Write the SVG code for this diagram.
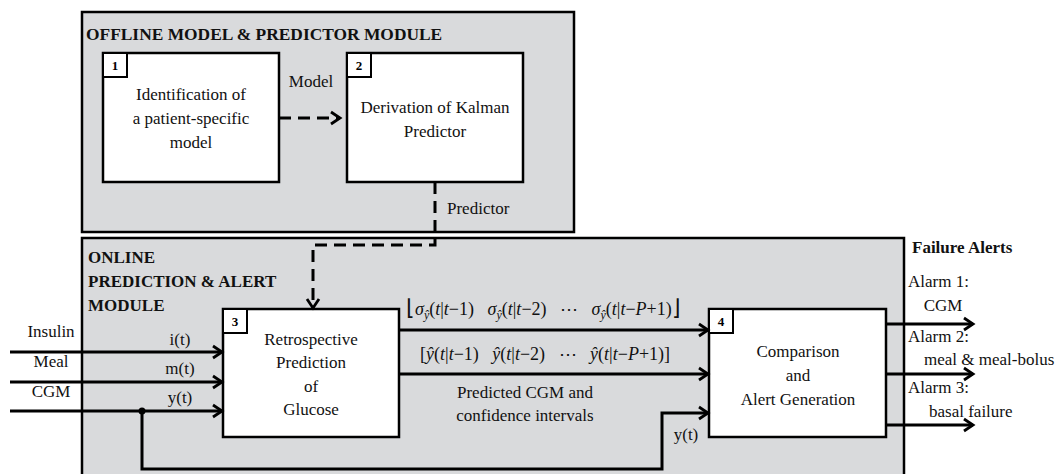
<svg xmlns="http://www.w3.org/2000/svg" width="1061" height="474" viewBox="0 0 1061 474">
<defs>
<style>
.mod{fill:#d9dadc;stroke:#000;stroke-width:2.5}
.box{fill:#fff;stroke:#000;stroke-width:2.5}
.num{fill:#fff;stroke:#000;stroke-width:2}
.t{font-family:"Liberation Serif","Times New Roman",serif;font-size:17px;fill:#111}
.c{text-anchor:middle}
.b{font-weight:bold}
.n{font-family:"Liberation Serif","Times New Roman",serif;font-size:13px;font-weight:bold;text-anchor:middle}
.ln{fill:none;stroke:#000;stroke-width:3}
.dash{stroke-dasharray:12 7}
.i{font-style:italic}
</style>
<marker id="ah" markerUnits="userSpaceOnUse" markerWidth="16" markerHeight="16" viewBox="0 0 16 16" refX="13" refY="8" orient="auto">
<path d="M4,2 L13,8 L4,14" fill="none" stroke="#000" stroke-width="2.8"/>
</marker>
</defs>

<g id="offline-module">
<rect class="mod" x="82" y="12" width="492" height="220"/>
<text class="t b" x="86" y="40" style="font-size:17.4px">OFFLINE MODEL &amp; PREDICTOR MODULE</text>
</g>

<g id="online-module">
<rect class="mod" x="82" y="238" width="822" height="260"/>
<text class="t b" x="88" y="263">ONLINE</text>
<text class="t b" x="88" y="287">PREDICTION &amp; ALERT</text>
<text class="t b" x="88" y="311">MODULE</text>
</g>

<g id="node1">
<rect class="box" x="103" y="53" width="176" height="129"/>
<rect class="num" x="103" y="53" width="24" height="24"/>
<text class="n" x="115" y="70">1</text>
<text class="t c" x="191" y="100">Identification of</text>
<text class="t c" x="191" y="124">a patient-specific</text>
<text class="t c" x="191" y="148">model</text>
</g>

<g id="node2">
<rect class="box" x="347" y="53" width="176" height="129"/>
<rect class="num" x="347" y="53" width="24" height="24"/>
<text class="n" x="359" y="70">2</text>
<text class="t c" x="435" y="113">Derivation of Kalman</text>
<text class="t c" x="435" y="137">Predictor</text>
</g>

<g id="node3">
<rect class="box" x="223" y="309" width="176" height="128"/>
<rect class="num" x="223" y="309" width="24" height="24"/>
<text class="n" x="235" y="326">3</text>
<text class="t c" x="311" y="345">Retrospective</text>
<text class="t c" x="311" y="368">Prediction</text>
<text class="t c" x="311" y="392">of</text>
<text class="t c" x="311" y="415">Glucose</text>
</g>

<g id="node4">
<rect class="box" x="709" y="309" width="177" height="128"/>
<rect class="num" x="709" y="309" width="24" height="24"/>
<text class="n" x="721" y="326">4</text>
<text class="t c" x="798" y="357">Comparison</text>
<text class="t c" x="798" y="381">and</text>
<text class="t c" x="798" y="405">Alert Generation</text>
</g>

<g id="connectors">
<path class="ln dash" d="M279,118 H340" marker-end="url(#ah)"/>
<path class="ln dash" d="M435,182 V245 H313 V308" marker-end="url(#ah)"/>
<path class="ln" d="M10,352 H222" marker-end="url(#ah)"/>
<path class="ln" d="M10,382 H222" marker-end="url(#ah)"/>
<path class="ln" d="M10,411 H222" marker-end="url(#ah)"/>
<path class="ln" d="M142,411 V469 H662 V413 H708" marker-end="url(#ah)"/>
<circle cx="142" cy="411" r="3.5" fill="#000"/>
<path class="ln" d="M399,330 H708" marker-end="url(#ah)"/>
<path class="ln" d="M399,374 H708" marker-end="url(#ah)"/>
<path class="ln" d="M886,324 H973" marker-end="url(#ah)"/>
<path class="ln" d="M886,374 H973" marker-end="url(#ah)"/>
<path class="ln" d="M886,425 H973" marker-end="url(#ah)"/>
</g>

<g id="labels">
<text class="t c" x="311" y="87">Model</text>
<text class="t" x="447" y="214">Predictor</text>
<text class="t c" x="51" y="337">Insulin</text>
<text class="t c" x="51" y="367">Meal</text>
<text class="t c" x="51" y="397">CGM</text>
<text class="t c" x="180" y="345">i(t)</text>
<text class="t c" x="180" y="374">m(t)</text>
<text class="t c" x="180" y="403">y(t)</text>
<text class="t" x="406" y="315" style="font-size:18px" xml:space="preserve"><tspan font-size="22">⌊</tspan><tspan class="i">σ</tspan><tspan class="i" font-size="12" dy="4">ŷ</tspan><tspan dy="-4">(</tspan><tspan class="i">t</tspan>|<tspan class="i">t</tspan>−1)   <tspan class="i">σ</tspan><tspan class="i" font-size="12" dy="4">ŷ</tspan><tspan dy="-4">(</tspan><tspan class="i">t</tspan>|<tspan class="i">t</tspan>−2)   ⋯   <tspan class="i">σ</tspan><tspan class="i" font-size="12" dy="4">ŷ</tspan><tspan dy="-4">(</tspan><tspan class="i">t</tspan>|<tspan class="i">t</tspan>−<tspan class="i">P</tspan>+1)<tspan font-size="22">⌋</tspan></text>
<text class="t" x="420" y="360" style="font-size:18px" xml:space="preserve">[<tspan class="i">ŷ</tspan>(<tspan class="i">t</tspan>|<tspan class="i">t</tspan>−1)   <tspan class="i">ŷ</tspan>(<tspan class="i">t</tspan>|<tspan class="i">t</tspan>−2)   ⋯   <tspan class="i">ŷ</tspan>(<tspan class="i">t</tspan>|<tspan class="i">t</tspan>−<tspan class="i">P</tspan>+1)]</text>
<text class="t c" x="525" y="398">Predicted CGM and</text>
<text class="t c" x="525" y="421">confidence intervals</text>
<text class="t c" x="686" y="440">y(t)</text>
<text class="t b" x="912" y="253">Failure Alerts</text>
<text class="t" x="908" y="287">Alarm 1:</text>
<text class="t c" x="943" y="311">CGM</text>
<text class="t" x="908" y="342">Alarm 2:</text>
<text class="t" x="924" y="365">meal &amp; meal-bolus</text>
<text class="t" x="908" y="393">Alarm 3:</text>
<text class="t" x="929" y="417">basal failure</text>
</g>
</svg>
